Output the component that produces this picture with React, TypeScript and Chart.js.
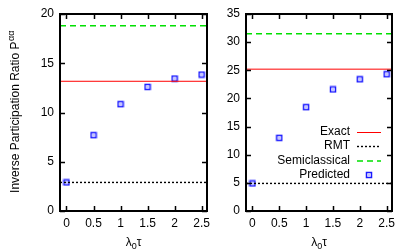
import React, { useEffect, useRef } from "react";
import { Chart, registerables } from "chart.js";

Chart.register(...registerables);

const xValues = [0, 0.5, 1, 1.5, 2, 2.5];
const xTicks = [0, 0.5, 1, 1.5, 2, 2.5];
const xRange = [-0.12, 2.6];

const leftPredicted = [2.9, 7.7, 10.85, 12.6, 13.45, 13.85];
const leftExact = 13.17;
const leftRMT = 2.9;
const leftSemi = 18.8;
const leftYTicks = [0, 5, 10, 15, 20];
const leftYRange = [0, 20];

const rightPredicted = [4.9, 13.0, 18.45, 21.6, 23.4, 24.3];
const rightExact = 25.2;
const rightRMT = 4.9;
const rightSemi = 31.5;
const rightYTicks = [0, 5, 10, 15, 20, 25, 30, 35];
const rightYRange = [0, 35];

const legendLabels = ["Exact", "RMT", "Semiclassical", "Predicted"];

const FONT = "'Liberation Sans', Arial, Helvetica, sans-serif";
const RED = "#ff0000";
const GREEN = "#00e000";
const BLUE = "#1a1aff";

function makeMarker(): HTMLCanvasElement {
  const c = document.createElement("canvas");
  c.width = 8;
  c.height = 8;
  const g = c.getContext("2d")!;
  g.strokeStyle = BLUE;
  g.lineWidth = 1.5;
  g.strokeRect(1.5, 1.5, 5, 5);
  g.fillStyle = BLUE;
  g.fillRect(3.5, 3.5, 1, 1);
  return c;
}

const framePlugin = {
  id: "frame",
  afterDraw(chart: any) {
    const { ctx, chartArea: a } = chart;
    ctx.save();
    ctx.strokeStyle = "#000";
    ctx.lineWidth = 1.5;
    const xs = chart.scales.x;
    const ys = chart.scales.y;
    const tl = 5;
    ctx.beginPath();
    xs.ticks.forEach((t: any) => {
      const px = Math.round(xs.getPixelForValue(t.value)) + 0.5;
      ctx.moveTo(px, a.bottom);
      ctx.lineTo(px, a.bottom - tl);
      ctx.moveTo(px, a.top);
      ctx.lineTo(px, a.top + tl);
    });
    ys.ticks.forEach((t: any) => {
      const py = Math.round(ys.getPixelForValue(t.value)) + 0.5;
      ctx.moveTo(a.left, py);
      ctx.lineTo(a.left + tl, py);
      ctx.moveTo(a.right, py);
      ctx.lineTo(a.right - tl, py);
    });
    ctx.stroke();
    ctx.lineWidth = 2;
    ctx.strokeRect(a.left, a.top, a.right - a.left, a.bottom - a.top);
    // x title: λ0τ
    ctx.fillStyle = "#000";
    ctx.textBaseline = "alphabetic";
    const cx = (a.left + a.right) / 2;
    const by = 246;
    ctx.font = `12px ${FONT}`;
    const w1 = ctx.measureText("λ").width;
    ctx.font = `9px ${FONT}`;
    const w2 = ctx.measureText("0").width;
    ctx.font = `12px ${FONT}`;
    const w3 = ctx.measureText("τ").width;
    let x0 = cx - (w1 + w2 + w3) / 2;
    ctx.textAlign = "left";
    ctx.fillText("λ", x0, by);
    ctx.font = `9px ${FONT}`;
    ctx.fillText("0", x0 + w1, by + 3);
    ctx.font = `12px ${FONT}`;
    ctx.fillText("τ", x0 + w1 + w2, by);
    ctx.restore();
  },
};

const yTitlePlugin = {
  id: "ytitle",
  afterDraw(chart: any) {
    const { ctx } = chart;
    ctx.save();
    ctx.fillStyle = "#000";
    const main = "Inverse Participation Ratio P";
    const sup = "αα";
    ctx.font = `12px ${FONT}`;
    const w1 = ctx.measureText(main).width;
    ctx.font = `9px ${FONT}`;
    const w2 = ctx.measureText(sup).width;
    ctx.translate(19, 112);
    ctx.rotate(-Math.PI / 2);
    ctx.textAlign = "left";
    ctx.textBaseline = "alphabetic";
    const x0 = -(w1 + w2) / 2;
    ctx.font = `12px ${FONT}`;
    ctx.fillText(main, x0, 0);
    ctx.font = `9px ${FONT}`;
    ctx.fillText(sup, x0 + w1 + 0.5, -5);
    ctx.restore();
  },
};

function legendPlugin(marker: HTMLCanvasElement) {
  return {
    id: "customLegend",
    afterDraw(chart: any) {
      const { ctx, chartArea: a } = chart;
      ctx.save();
      ctx.font = `12px ${FONT}`;
      ctx.fillStyle = "#000";
      ctx.textAlign = "right";
      ctx.textBaseline = "middle";
      const tx = a.right - 42;
      const s0 = a.right - 35;
      const s1 = a.right - 11;
      const ys = [a.top + 118, a.top + 132, a.top + 147, a.top + 160.5];
      legendLabels.forEach((l, i) => ctx.fillText(l, tx, ys[i]));
      // Exact
      ctx.strokeStyle = RED;
      ctx.lineWidth = 1;
      ctx.beginPath();
      ctx.moveTo(s0, Math.round(ys[0]) + 0.5);
      ctx.lineTo(s1, Math.round(ys[0]) + 0.5);
      ctx.stroke();
      // RMT
      ctx.strokeStyle = "#000";
      ctx.setLineDash([2, 2]);
      ctx.lineWidth = 1.4;
      ctx.beginPath();
      ctx.moveTo(s0, Math.round(ys[1]) + 0.5);
      ctx.lineTo(s1, Math.round(ys[1]) + 0.5);
      ctx.stroke();
      // Semi
      ctx.strokeStyle = GREEN;
      ctx.setLineDash([6, 4]);
      ctx.lineWidth = 1.5;
      ctx.beginPath();
      ctx.moveTo(s0, Math.round(ys[2]));
      ctx.lineTo(s1, Math.round(ys[2]));
      ctx.stroke();
      ctx.setLineDash([]);
      ctx.drawImage(marker, Math.round((s0 + s1) / 2) - 4, Math.round(ys[3]) - 4);
      ctx.restore();
    },
  };
}

function buildConfig(
  predicted: number[],
  exact: number,
  rmt: number,
  semi: number,
  yTicks: number[],
  yRange: number[],
  yWidth: number,
  padRight: number,
  marker: HTMLCanvasElement,
  plugins: any[]
): any {
  const hline = (v: number) => [
    { x: xRange[0], y: v },
    { x: xRange[1], y: v },
  ];
  return {
    type: "scatter",
    data: {
      datasets: [
        {
          label: "Exact",
          type: "line",
          data: hline(exact),
          borderColor: RED,
          borderWidth: 1,
          pointRadius: 0,
        },
        {
          label: "RMT",
          type: "line",
          data: hline(rmt),
          borderColor: "#000",
          borderWidth: 1.4,
          borderDash: [2, 2],
          pointRadius: 0,
        },
        {
          label: "Semiclassical",
          type: "line",
          data: hline(semi),
          borderColor: GREEN,
          borderWidth: 1.5,
          borderDash: [6, 4],
          pointRadius: 0,
        },
        {
          label: "Predicted",
          data: xValues.map((x, i) => ({ x, y: predicted[i] })),
          pointStyle: marker,
          pointRadius: 4,
        },
      ],
    },
    options: {
      responsive: false,
      animation: false,
      events: [],
      layout: { padding: { left: 0, right: padRight, top: 14, bottom: 0 } },
      plugins: { legend: { display: false }, tooltip: { enabled: false } },
      scales: {
        x: {
          type: "linear",
          min: xRange[0],
          max: xRange[1],
          grid: { display: false, drawTicks: false },
          border: { display: false },
          afterBuildTicks: (s: any) => {
            s.ticks = xTicks.map((v) => ({ value: v }));
          },
          afterFit: (s: any) => {
            s.height = 40;
            s.paddingLeft = 0;
            s.paddingRight = 0;
          },
          ticks: {
            color: "#000",
            font: { family: FONT, size: 12 },
            padding: 5,
            maxRotation: 0,
            autoSkip: false,
            callback: (v: any) => String(v),
          },
        },
        y: {
          type: "linear",
          min: yRange[0],
          max: yRange[1],
          grid: { display: false, drawTicks: false },
          border: { display: false },
          afterBuildTicks: (s: any) => {
            s.ticks = yTicks.map((v) => ({ value: v }));
          },
          afterFit: (s: any) => {
            s.width = yWidth;
            s.paddingTop = 0;
            s.paddingBottom = 0;
          },
          ticks: {
            color: "#000",
            font: { family: FONT, size: 12 },
            padding: 6,
            autoSkip: false,
            callback: (v: any) => String(v),
          },
        },
      },
    },
    plugins: [framePlugin, ...plugins],
  };
}

export default function App() {
  const leftRef = useRef<HTMLCanvasElement>(null);
  const rightRef = useRef<HTMLCanvasElement>(null);

  useEffect(() => {
    const marker = makeMarker();
    const c1 = new Chart(
      leftRef.current!,
      buildConfig(leftPredicted, leftExact, leftRMT, leftSemi, leftYTicks, leftYRange, 60, 5, marker, [yTitlePlugin])
    );
    const c2 = new Chart(
      rightRef.current!,
      buildConfig(rightPredicted, rightExact, rightRMT, rightSemi, rightYTicks, rightYRange, 34, 23, marker, [
        legendPlugin(marker),
      ])
    );
    return () => {
      c1.destroy();
      c2.destroy();
    };
  }, []);

  return (
    <div style={{ position: "fixed", left: 0, top: 0, width: 415, height: 251, background: "#fff" }}>
      <canvas ref={leftRef} width={212} height={251} style={{ position: "absolute", left: 0, top: 0 }} />
      <canvas ref={rightRef} width={203} height={251} style={{ position: "absolute", left: 212, top: 0 }} />
    </div>
  );
}
